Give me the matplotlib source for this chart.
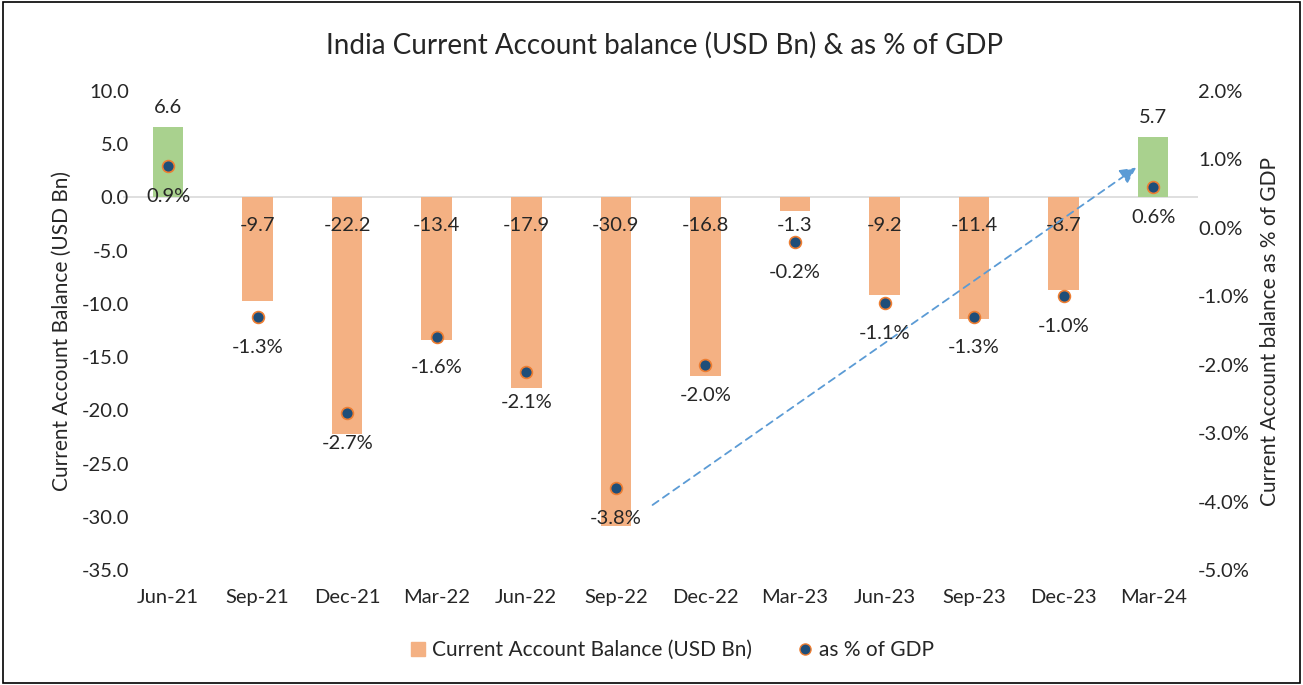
import matplotlib
matplotlib.use("Agg")
import matplotlib.pyplot as plt
import numpy as np
from matplotlib.patches import Rectangle
from matplotlib.lines import Line2D
from matplotlib.ticker import FuncFormatter

plt.rcParams['font.family'] = ['Lato', 'DejaVu Sans']

categories = ["Jun-21", "Sep-21", "Dec-21", "Mar-22", "Jun-22", "Sep-22",
              "Dec-22", "Mar-23", "Jun-23", "Sep-23", "Dec-23", "Mar-24"]
cab_usd_bn = [6.6, -9.7, -22.2, -13.4, -17.9, -30.9, -16.8, -1.3, -9.2, -11.4, -8.7, 5.7]
pct_gdp = [0.9, -1.3, -2.7, -1.6, -2.1, -3.8, -2.0, -0.2, -1.1, -1.3, -1.0, 0.6]
left_ticks = [10, 5, 0, -5, -10, -15, -20, -25, -30, -35]
right_ticks = [2, 1, 0, -1, -2, -3, -4, -5]

txt = '#262626'
green = '#A9D18E'
orange = '#F4B183'
dot = '#1F4E79'
FS = 14.5

fig = plt.figure(figsize=(13.03, 6.85), dpi=100)
ax = fig.add_axes([0.0946, 0.1679, 0.8248, 0.6993])
ax2 = ax.twinx()

x = np.arange(len(categories))
colors = [green if v >= 0 else orange for v in cab_usd_bn]
ax.bar(x, cab_usd_bn, width=0.34, color=colors, zorder=2)
ax.axhline(0, color='#D9D9D9', lw=1.2, zorder=1)
ax.set_ylim(-35, 10)
ax.set_xlim(-0.5, len(categories) - 0.5)
ax.set_yticks(left_ticks)
ax.yaxis.set_major_formatter(FuncFormatter(lambda v, p: f"{v:.1f}"))
ax.set_xticks(x)
ax.set_xticklabels(categories)
ax.tick_params(axis='both', length=0, labelsize=FS, colors=txt)
ax.tick_params(axis='x', pad=14)
ax.tick_params(axis='y', pad=-4)
for s in ax.spines.values():
    s.set_visible(False)

for xi, v in zip(x, cab_usd_bn):
    if v >= 0:
        ax.annotate(f"{v:.1f}", (xi, v), xytext=(0, 8), textcoords='offset points',
                    ha='center', va='bottom', fontsize=FS, color=txt)
    else:
        ax.annotate(f"{v:.1f}", (xi, 0), xytext=(0, -20), textcoords='offset points',
                    ha='center', va='center', fontsize=FS, color=txt, zorder=5)

ax2.plot(x, pct_gdp, 'o', ms=8.5, mfc=dot, mec='#ED7D31', mew=1.2, zorder=4)
ax2.set_ylim(-5, 2)
ax2.set_yticks(right_ticks)
ax2.yaxis.set_major_formatter(FuncFormatter(lambda v, p: f"{v:.1f}%"))
ax2.tick_params(axis='y', length=0, labelsize=FS, colors=txt, pad=0)
for s in ax2.spines.values():
    s.set_visible(False)

for xi, v in zip(x, pct_gdp):
    ax2.annotate(f"{v:.1f}%", (xi, v), xytext=(0, -22), textcoords='offset points',
                 ha='center', va='center', fontsize=FS, color=txt, zorder=5)

ax2.annotate("", xy=(10.81, 0.88), xytext=(5.41, -4.05),
             arrowprops=dict(arrowstyle='-|>', linestyle=(0, (4, 3)), color='#5B9BD5',
                             lw=1.3, mutation_scale=24, shrinkA=0, shrinkB=0))

fig.text(62 / 1303, 1 - 331 / 685, "Current Account Balance (USD Bn)", rotation=90,
         ha='center', va='center', fontsize=15, color=txt)
fig.text(1270 / 1303, 1 - 332 / 685, "Current Account balance as % of GDP", rotation=90,
         ha='center', va='center', fontsize=15, color=txt)

fig.text(0.510, 0.934, "India Current Account balance (USD Bn) & as % of GDP",
         ha='center', va='center', fontsize=20, color=txt)

handles = [Line2D([0], [0], marker='s', ls='', ms=10, mfc=orange, mec=orange),
           Line2D([0], [0], marker='o', ls='', ms=8, mfc=dot, mec='#ED7D31', mew=1)]
fig.legend(handles, ["Current Account Balance (USD Bn)", "as % of GDP"],
           loc='center', bbox_to_anchor=(0.516, 0.051), ncol=2, frameon=False,
           fontsize=15, handlelength=0.7, handletextpad=0.3, columnspacing=2.2,
           labelcolor=txt)

fig.patches.append(Rectangle((0.002, 0.003), 0.996, 0.994, transform=fig.transFigure,
                             fill=False, edgecolor='black', lw=1.2))

fig.savefig("out.png", dpi=100)
